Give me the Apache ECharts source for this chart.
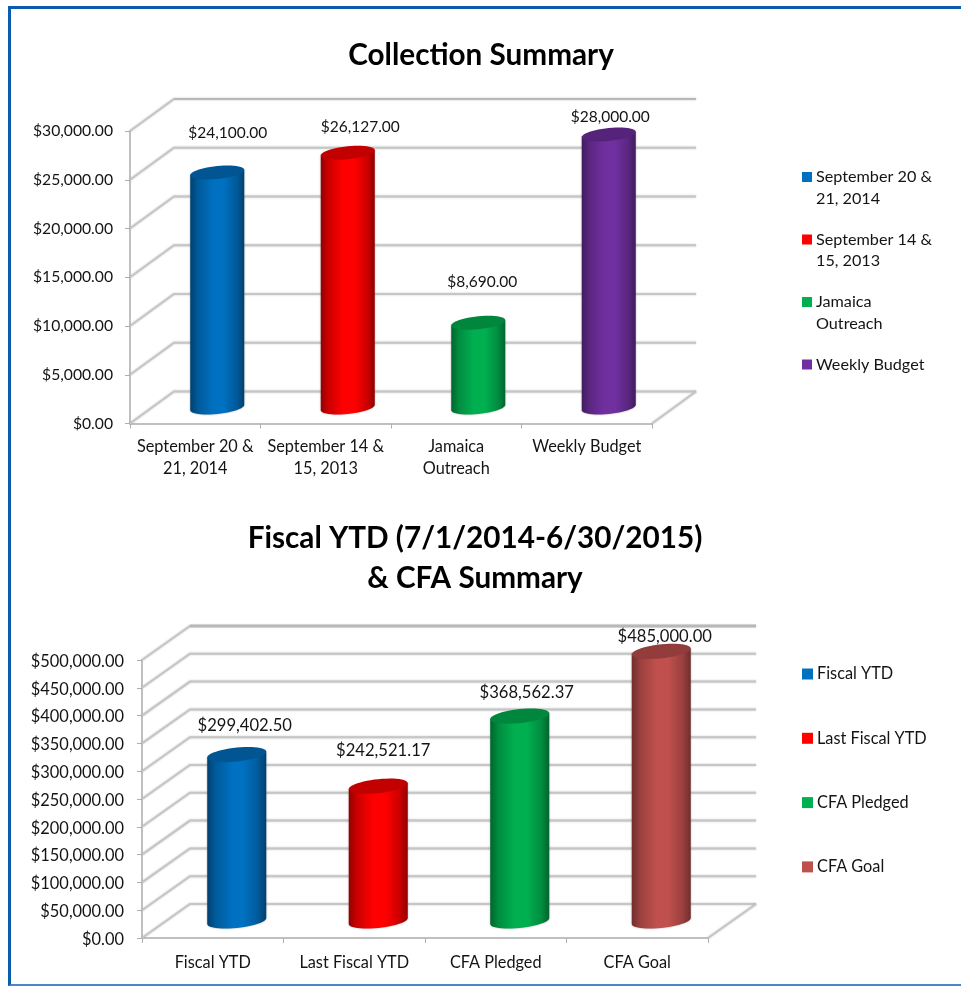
<!DOCTYPE html>
<html>
<head>
<meta charset="utf-8">
<title>Collection Summary</title>
<script src="https://cdn.jsdelivr.net/npm/echarts@6/dist/echarts.min.js"></script>
<style>
  html, body { margin: 0; padding: 0; background: #fff; overflow: hidden; }
  #main { position: absolute; left: 0; top: 0; width: 961px; height: 987px; }
  #frame {
    position: absolute; left: 8px; top: 6px; width: 953px; height: 975px;
    border-top: 3px solid #0b5cad; border-left: 3px solid #0b5cad; border-bottom: 2px solid #4a86c8;
  }
</style>
</head>
<body>
<div id="frame"></div>
<div id="main"></div>
<script>
var collectionNames = ["September 20 &\n21, 2014", "September 14 &\n15, 2013", "Jamaica\nOutreach", "Weekly Budget"];
var collectionValues = [24100, 26127, 8690, 28000];
var collectionTicks = [0, 5000, 10000, 15000, 20000, 25000, 30000];

var fiscalNames = ["Fiscal YTD", "Last Fiscal YTD", "CFA Pledged", "CFA Goal"];
var fiscalValues = [299402.5, 242521.17, 368562.37, 485000];
var fiscalTicks = [0, 50000, 100000, 150000, 200000, 250000, 300000, 350000, 400000, 450000, 500000];

var collectionColors = ["#0070c0", "#ff0000", "#00b050", "#7030a0"];
var fiscalColors = ["#0070c0", "#ff0000", "#00b050", "#c0504d"];

// label shift from the top of each cylinder, excel put them all over the place
var collectionNudge = [[10.5, -40], [12.5, -26], [4, -40.5], [1.5, -17.5]];
var fiscalNudge = [[8, -29], [5, -36], [7, -23], [3.5, -15]];

var FONT = "Lato, Carlito, sans-serif";
var TEXT_COLOR = "#141414";

function money(v) {
  return "$" + Number(v).toLocaleString("en-US", { minimumFractionDigits: 2, maximumFractionDigits: 2 });
}

function shade(hex, k) {
  var n = parseInt(hex.slice(1), 16);
  var r = Math.round(((n >> 16) & 255) * k);
  var g = Math.round(((n >> 8) & 255) * k);
  var b = Math.round((n & 255) * k);
  return "rgb(" + r + "," + g + "," + b + ")";
}

// the back wall and the floor: every tick runs back along the side and then across
function wallSeries(gridIndex, ticks, depth, topWidth) {
  return {
    type: "custom",
    xAxisIndex: gridIndex,
    yAxisIndex: gridIndex,
    silent: true,
    z: 1,
    data: ticks.map(function (t) { return [0, t]; }),
    encode: { x: 0, y: 1 },
    renderItem: function (params, api) {
      var sys = params.coordSys;
      var y = api.coord([0, api.value(1)])[1];
      var left = sys.x;
      var right = sys.x + sys.width;
      var line = {
        fill: "none",
        stroke: "#c6c6c6",
        lineWidth: 2,
        shadowBlur: 2,
        shadowColor: "rgba(120,120,120,0.45)"
      };
      var kids = [{
        type: "polyline",
        shape: { points: [[left, y], [left + depth[0], y + depth[1]], [right + depth[0], y + depth[1]]] },
        style: line
      }];
      if (api.value(1) === 0) {
        kids.push({
          type: "line",
          shape: { x1: right, y1: y, x2: right + depth[0], y2: y + depth[1] },
          style: line
        });
      }
      if (api.value(1) === ticks[ticks.length - 1]) {
        kids.push({
          type: "line",
          shape: { x1: left + depth[0], y1: y + depth[1], x2: right + depth[0], y2: y + depth[1] },
          style: { stroke: "#b8b8b8", lineWidth: topWidth }
        });
      }
      return { type: "group", children: kids };
    }
  };
}

function cylinderSeries(gridIndex, name, index, value, color, depth, nudge, rx, ry, labelSize) {
  return {
    type: "custom",
    name: name,
    xAxisIndex: gridIndex,
    yAxisIndex: gridIndex,
    color: color,
    itemStyle: { color: color },
    silent: true,
    z: 3,
    data: [[index, value]],
    encode: { x: 0, y: 1 },
    renderItem: function (params, api) {
      var top = api.coord([api.value(0), api.value(1)]);
      var base = api.coord([api.value(0), 0]);
      var cx = top[0] + depth[0] / 2;
      var topY = top[1] + depth[1] / 2;
      var baseY = base[1] + depth[1] / 2;
      var tilt = rx * 0.1;
      var body = [];
      var cap = [];
      var i, t;
      for (i = 0; i <= 24; i++) {
        t = Math.PI * i / 24;
        body.push([cx + rx * Math.cos(t), baseY + ry * Math.sin(t) - tilt * Math.cos(t)]);
      }
      body.push([cx - rx, topY + tilt]);
      body.push([cx + rx, topY - tilt]);
      for (i = 0; i < 48; i++) {
        t = Math.PI * i / 24;
        cap.push([cx + rx * Math.cos(t), topY + ry * Math.sin(t) - tilt * Math.cos(t)]);
      }
      return {
        type: "group",
        children: [{
          type: "polygon",
          shape: { points: body },
          style: {
            fill: new echarts.graphic.LinearGradient(0, 0, 1, 0, [
              { offset: 0, color: shade(color, 0.58) },
              { offset: 0.14, color: shade(color, 0.8) },
              { offset: 0.42, color: color },
              { offset: 0.62, color: color },
              { offset: 0.86, color: shade(color, 0.8) },
              { offset: 1, color: shade(color, 0.58) }
            ]),
            shadowBlur: 2,
            shadowColor: "rgba(90,90,90,0.5)"
          }
        }, {
          type: "polygon",
          shape: { points: cap },
          style: { fill: shade(color, 0.76) }
        }, {
          type: "text",
          style: {
            text: money(api.value(1)),
            x: cx + nudge[0],
            y: topY + nudge[1],
            align: "center",
            verticalAlign: "middle",
            fill: TEXT_COLOR,
            font: labelSize + "px " + FONT
          }
        }]
      };
    }
  };
}

var depth1 = [44, -32];
var depth2 = [48, -34];

var series = [wallSeries(0, collectionTicks, depth1, 2), wallSeries(1, fiscalTicks, depth2, 3)];
collectionNames.forEach(function (name, i) {
  series.push(cylinderSeries(0, name, i, collectionValues[i], collectionColors[i], depth1, collectionNudge[i], 27, 6.5, 15.5));
});
fiscalNames.forEach(function (name, i) {
  series.push(cylinderSeries(1, name, i, fiscalValues[i], fiscalColors[i], depth2, fiscalNudge[i], 29.5, 7, 16.6));
});

function xAxisOf(gridIndex, names, margin) {
  return {
    type: "category",
    gridIndex: gridIndex,
    data: names,
    axisLine: { lineStyle: { color: "#c0c0c0", width: 2 } },
    axisTick: { show: true, length: 5, lineStyle: { color: "#b0b0b0" } },
    axisLabel: { color: TEXT_COLOR, fontFamily: FONT, fontSize: 16.3, lineHeight: 22, margin: margin, interval: 0 }
  };
}

function yAxisOf(gridIndex, ticks, margin, size) {
  return {
    type: "value",
    gridIndex: gridIndex,
    min: ticks[0],
    max: ticks[ticks.length - 1],
    interval: ticks[1] - ticks[0],
    splitLine: { show: false },
    axisLine: { show: true, lineStyle: { color: "#c0c0c0", width: 2 } },
    axisTick: { show: true, length: 5, lineStyle: { color: "#b0b0b0" } },
    axisLabel: { color: TEXT_COLOR, fontFamily: FONT, fontSize: size, margin: margin, formatter: money }
  };
}

// square sits on the first line of the two line legend entries
var topSquare = "path://M0 5.5h10v10H0z M0 0h0 M0 43h0";

var fiscalY = yAxisOf(1, fiscalTicks, 18, 16.4);
// labels sit a bit under the tick on this one
fiscalY.axisLabel.verticalAlign = "top";
fiscalY.axisLabel.lineHeight = 3;

var option = {
  animation: false,
  title: [{
    text: "Collection Summary",
    left: 481,
    top: 40,
    padding: 0,
    textAlign: "center",
    textStyle: { color: "#000", fontFamily: FONT, fontSize: 29.7, fontWeight: "bold" }
  }, {
    text: "Fiscal YTD (7/1/2014-6/30/2015)\n& CFA Summary",
    left: 475,
    top: 518,
    padding: 0,
    textAlign: "center",
    textStyle: { color: "#000", fontFamily: FONT, fontSize: 29.7, fontWeight: "bold", lineHeight: 40 }
  }],
  grid: [
    { left: 130, top: 131, width: 522, height: 292.5 },
    { left: 142, top: 660, width: 566, height: 278 }
  ],
  xAxis: [xAxisOf(0, collectionNames, 12), xAxisOf(1, fiscalNames, 14)],
  yAxis: [yAxisOf(0, collectionTicks, 17, 15.7), fiscalY],
  legend: [{
    orient: "vertical",
    left: 802,
    top: 166.5,
    padding: 0,
    itemWidth: 10,
    itemHeight: 43,
    itemGap: 19.5,
    selectedMode: false,
    icon: topSquare,
    data: collectionNames,
    formatter: function (name) {
      return name.indexOf("\n") >= 0 ? name : name + "\n ";
    },
    textStyle: { color: TEXT_COLOR, fontFamily: FONT, fontSize: 16.2, lineHeight: 21.5, padding: [0, 0, 0, -1] }
  }, {
    orient: "vertical",
    left: 802,
    top: 666,
    padding: 0,
    itemWidth: 11,
    itemHeight: 11,
    itemGap: 48.3,
    selectedMode: false,
    icon: "rect",
    data: fiscalNames,
    textStyle: { color: TEXT_COLOR, fontFamily: FONT, fontSize: 16.3, lineHeight: 16, padding: [0, 0, 0, -1] }
  }],
  series: series
};

var myChart = echarts.init(document.getElementById("main"), null, { renderer: "canvas" });
myChart.setOption(option);
</script>
</body>
</html>
